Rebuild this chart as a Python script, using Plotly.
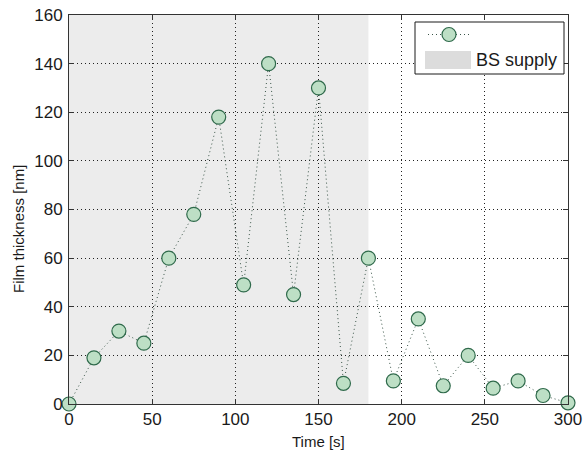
import plotly.graph_objects as go

time_s = [0, 15, 30, 45, 60, 75, 90, 105, 120, 135, 150, 165, 180, 195, 210, 225, 240, 255, 270, 285, 300]
thickness_nm = [0, 19, 30, 25, 60, 78, 118, 49, 140, 45, 130, 8.5, 60, 9.5, 35, 7.5, 20, 6.5, 9.5, 3.5, 0.5]
supply_start = 0
supply_end = 180
supply_label = "BS supply"
x_ticks = [0, 50, 100, 150, 200, 250, 300]
y_ticks = [0, 20, 40, 60, 80, 100, 120, 140, 160]

# plot-area pixel geometry
L, R, T, B = 69, 568, 15, 404
W, H = 583, 453


def px(p):
    return (p - L) / (R - L)


def py(p):
    return (B - p) / (B - T)


FONT = "Liberation Sans, Arial, sans-serif"
MARK_FILL = "#bddfc5"
MARK_LINE = "#2f6a4b"
DOT = "1px,3px"

fig = go.Figure()

fig.add_shape(type="rect", xref="x", yref="paper", x0=supply_start, x1=supply_end,
              y0=0, y1=1, fillcolor="#ececec", line_width=0, layer="below")

fig.add_trace(go.Scatter(
    x=time_s, y=thickness_nm, mode="lines+markers", showlegend=False,
    line=dict(color="#3a5548", width=1, dash=DOT),
    marker=dict(size=14, color=MARK_FILL, line=dict(color=MARK_LINE, width=1.2)),
    cliponaxis=False,
))

axis_common = dict(
    showline=True, linecolor="#333333", linewidth=1, mirror="ticks",
    ticks="inside", ticklen=5, tickcolor="#333333",
    showgrid=True, gridcolor="#222222", gridwidth=1, griddash=DOT,
    zeroline=False,
    tickfont=dict(family=FONT, size=17, color="#1a1a1a"),
)

fig.update_xaxes(range=[0, 300], tickvals=x_ticks, ticklabelstandoff=0, **axis_common)
fig.update_yaxes(range=[0, 160], tickvals=y_ticks, ticklabelstandoff=2, **axis_common)

# manual legend (box, line+marker sample, patch sample, label)
fig.add_shape(type="rect", xref="paper", yref="paper", x0=px(415), x1=px(564),
              y0=py(74), y1=py(22), fillcolor="#ffffff",
              line=dict(color="#1a1a1a", width=1), layer="above")
fig.add_shape(type="line", xref="paper", yref="paper", x0=px(428), x1=px(470),
              y0=py(34.5), y1=py(34.5), line=dict(color="#3a5548", width=1, dash=DOT),
              layer="above")
fig.add_shape(type="circle", xref="paper", yref="paper", xsizemode="pixel", ysizemode="pixel",
              xanchor=px(449), yanchor=py(34.5), x0=-7, x1=7, y0=-7, y1=7,
              fillcolor=MARK_FILL, line=dict(color=MARK_LINE, width=1.2), layer="above")
fig.add_shape(type="rect", xref="paper", yref="paper", x0=px(425), x1=px(471),
              y0=py(69), y1=py(51), fillcolor="#dcdcdc", line_width=0, layer="above")
fig.add_annotation(xref="paper", yref="paper", x=px(474), y=py(60), text=supply_label,
                   showarrow=False, xanchor="left", yanchor="middle",
                   font=dict(family=FONT, size=18, color="#1a1a1a"))

# axis titles
fig.add_annotation(xref="paper", yref="paper", x=px(318.5), y=py(441), text="Time [s]",
                   showarrow=False, xanchor="center", yanchor="middle",
                   font=dict(family=FONT, size=15, color="#1a1a1a"))
fig.add_annotation(xref="paper", yref="paper", x=px(18), y=py(229), text="Film thickness [nm]",
                   textangle=-90, showarrow=False, xanchor="center", yanchor="middle",
                   font=dict(family=FONT, size=15, color="#1a1a1a"))

fig.update_layout(
    width=W, height=H,
    margin=dict(l=L, r=W - R, t=T, b=H - B, autoexpand=False),
    plot_bgcolor="#ffffff", paper_bgcolor="#ffffff",
    font=dict(family=FONT, size=15, color="#1a1a1a"),
    showlegend=False,
)

fig.write_html("out.html", config={"displayModeBar": False},
               post_script="document.body.style.margin='0px';document.body.style.padding='0px';")
